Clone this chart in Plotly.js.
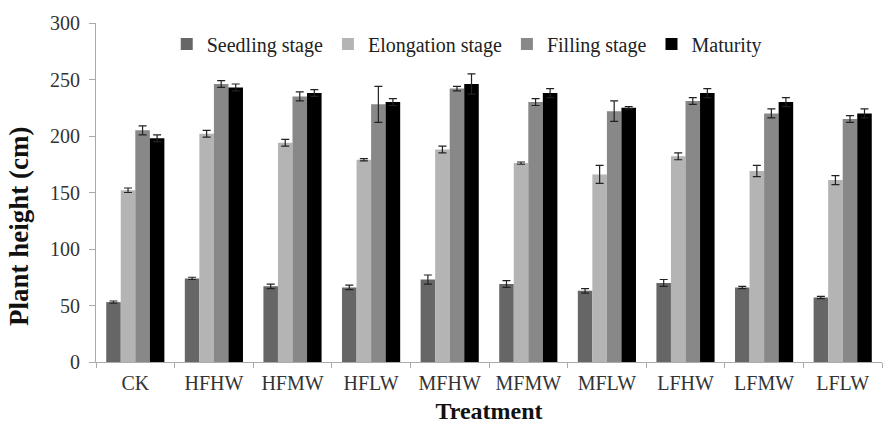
<!DOCTYPE html>
<html>
<head>
<meta charset="utf-8">
<script src="https://cdn.plot.ly/plotly-3.0.1.min.js"></script>
<style>html,body{margin:0;padding:0;background:#fff;}#chart{width:884px;height:424px;}</style>
</head>
<body>
<div id="chart"></div>
<script>
const categories = ["CK","HFHW","HFMW","HFLW","MFHW","MFMW","MFLW","LFHW","LFMW","LFLW"];
const seedling   = [53, 74, 67, 66, 73, 69, 63, 70, 66, 57];
const elongation = [152, 202, 194, 179, 188, 176, 166, 182, 169, 161];
const filling    = [205, 246, 235, 228, 242, 230, 222, 231, 220, 215];
const maturity   = [198, 243, 238, 230, 246, 238, 225, 238, 230, 220];
const seedlingErr   = [1, 1, 2, 2, 4, 3, 2, 3, 1, 1];
const elongationErr = [2, 3, 3, 1, 3, 1, 8, 3, 5, 4];
const fillingErr    = [4, 3, 4, 16, 2, 3, 9, 3, 4, 3];
const maturityErr   = [3, 3, 3, 3, 9, 4, 1, 4, 4, 4];
const seriesNames = ["Seedling stage","Elongation stage","Filling stage","Maturity"];
const colors = ["#666666","#b4b4b4","#888888","#000000"];

const vals = [seedling, elongation, filling, maturity];
const errs = [seedlingErr, elongationErr, fillingErr, maturityErr];
const traces = vals.map((v, i) => ({
  type: 'bar',
  name: seriesNames[i],
  x: categories,
  y: v,
  marker: {color: colors[i], line: {width: 0}},
  error_y: {type: 'data', array: errs[i], visible: true, color: '#222', thickness: 1.2, width: 4}
}));

const fam = 'Liberation Serif, Times New Roman, serif';
const f = (s, c) => ({family: fam, size: s, color: c || '#222'});
const layout = {
  width: 884, height: 424,
  margin: {l: 96, r: 2, t: 23, b: 62, autoexpand: false},
  paper_bgcolor: '#fff', plot_bgcolor: '#fff',
  font: f(20),
  barmode: 'group', bargap: 0.26, bargroupgap: 0,
  showlegend: true,
  legend: {orientation: 'h', x: 0.09, y: 0.938, xanchor: 'left', yanchor: 'middle',
           font: f(20), bgcolor: 'rgba(0,0,0,0)', itemwidth: 30, tracegroupgap: 0},
  xaxis: {
    title: {text: '<b>Treatment</b>', font: f(24, '#111'), standoff: 11},
    showline: true, linecolor: '#aaa', linewidth: 1,
    ticks: 'outside', tickson: 'boundaries', ticklen: 5, tickcolor: '#aaa',
    tickfont: f(20, '#333'), showgrid: false, ticklabelstandoff: 3
  },
  yaxis: {
    title: {text: '<b>Plant height (cm)</b>' + '&nbsp;'.repeat(10), font: f(27, '#111'), standoff: 13},
    range: [0, 300], dtick: 50, showline: true, linecolor: '#aaa', linewidth: 1,
    ticks: 'outside', ticklen: 6, tickcolor: '#aaa', showgrid: false, zeroline: false,
    tickfont: f(20, '#333'), ticklabelstandoff: 5
  }
};
Plotly.newPlot('chart', traces, layout, {displayModeBar: false, staticPlot: true});
</script>
</body>
</html>
